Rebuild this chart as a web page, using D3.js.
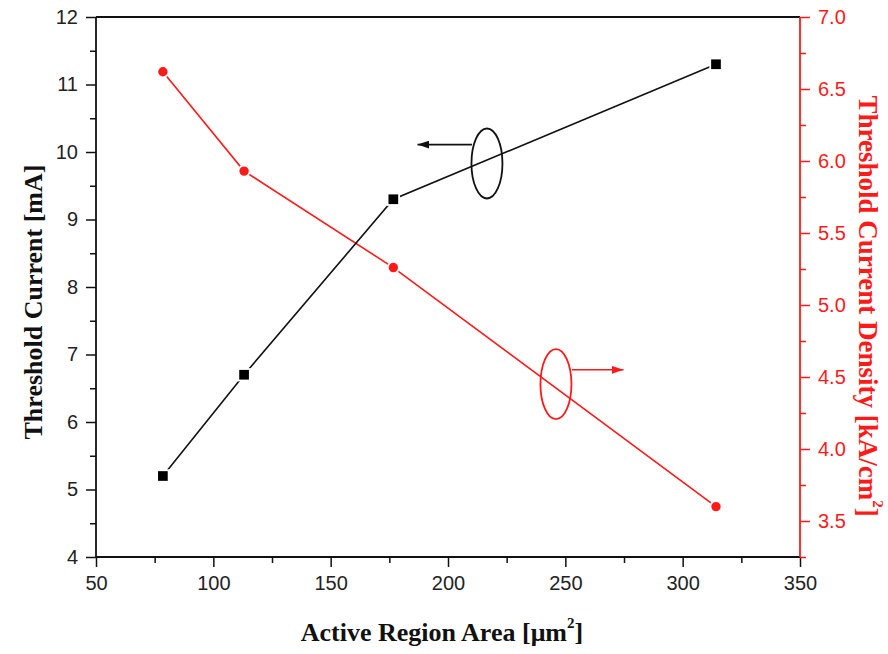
<!DOCTYPE html>
<html>
<head>
<meta charset="utf-8">
<script src="https://cdn.jsdelivr.net/npm/d3@7"></script>
<style>
  html, body { margin: 0; padding: 0; background: #fff; }
  svg { display: block; }
</style>
</head>
<body>
<svg id="chart" width="888" height="654"></svg>
<script>
// Active region area (µm²) for the four device sizes
const areas = [78.5, 113.1, 176.7, 314.2];
// Threshold current (mA), left axis
const thresholdCurrent = [5.2, 6.7, 9.3, 11.3];
// Threshold current density (kA/cm²), right axis
const currentDensity = [6.62, 5.93, 5.26, 3.60];

const xTicks = [50, 100, 150, 200, 250, 300, 350];
const leftTicks = [4, 5, 6, 7, 8, 9, 10, 11, 12];
const rightTicks = [3.5, 4.0, 4.5, 5.0, 5.5, 6.0, 6.5, 7.0];

// Annotation anchors in data units: ellipse centre and arrow ends
const blackNote = { cx: 216.6, cy: 9.83, x0: 210.2, x1: 187.0, y: 10.11 };
const redNote = { cx: 246.0, cy: 4.45, x0: 252.8, x1: 274.8, y: 4.55 };

const svg = d3.select("#chart");
const plotL = 96, plotR = 800, plotT = 17, plotB = 557;
const RED = "#ff1a1a";

const x = d3.scaleLinear().domain([50, 350]).range([plotL, plotR]);
const yL = d3.scaleLinear().domain([4, 12]).range([plotB, plotT]);
const yR = d3.scaleLinear().domain([3.25, 7.0]).range([plotB, plotT]);

const tickFont = "'Liberation Sans', Arial, sans-serif";
const titleFont = "'Liberation Serif', 'Times New Roman', serif";

// Minor ticks
function minor(axisGen, values) {
  return axisGen.tickValues(values).tickSize(6).tickFormat("");
}

// Bottom axis
const gx = svg.append("g").attr("transform", `translate(0,${plotB})`);
gx.append("g").call(minor(d3.axisBottom(x), d3.range(75, 350, 50)));
gx.append("g").call(d3.axisBottom(x).tickValues(xTicks).tickSize(10).tickPadding(9).tickFormat(d3.format("d")));

// Left axis
const gl = svg.append("g").attr("transform", `translate(${plotL},0)`);
gl.append("g").call(minor(d3.axisLeft(yL), d3.range(4.5, 12, 1)));
gl.append("g").call(d3.axisLeft(yL).tickValues(leftTicks).tickSize(10).tickPadding(8).tickFormat(d3.format("d")));

// Right axis (red)
const gr = svg.append("g").attr("transform", `translate(${plotR},0)`);
gr.append("g").call(minor(d3.axisRight(yR), [3.25, 3.75, 4.25, 4.75, 5.25, 5.75, 6.25, 6.75]));
gr.append("g").call(d3.axisRight(yR).tickValues(rightTicks).tickSize(10).tickPadding(8).tickFormat(d3.format(".1f")));

svg.selectAll(".domain").remove();
svg.selectAll(".tick line").attr("stroke", "#111").attr("stroke-width", 1.5);
svg.selectAll(".tick text")
  .attr("font-family", tickFont).attr("font-size", 20).attr("fill", "#222");
gr.selectAll(".tick line").attr("stroke", RED);
gr.selectAll(".tick text").attr("fill", RED);

// Frame: bottom, left, top in black; right in red
svg.append("line").attr("x1", plotL).attr("x2", plotR).attr("y1", plotB).attr("y2", plotB)
  .attr("stroke", "#111").attr("stroke-width", 1.8);
svg.append("line").attr("x1", plotL).attr("x2", plotL).attr("y1", plotT).attr("y2", plotB)
  .attr("stroke", "#111").attr("stroke-width", 1.8);
svg.append("line").attr("x1", plotL).attr("x2", plotR).attr("y1", plotT).attr("y2", plotT)
  .attr("stroke", "#111").attr("stroke-width", 1.8);
svg.append("line").attr("x1", plotR).attr("x2", plotR).attr("y1", plotT).attr("y2", plotB)
  .attr("stroke", RED).attr("stroke-width", 1.8);

// Series lines
const lineL = d3.line().x((d, i) => x(areas[i])).y(d => yL(d));
const lineR = d3.line().x((d, i) => x(areas[i])).y(d => yR(d));

svg.append("path").datum(currentDensity).attr("d", lineR)
  .attr("fill", "none").attr("stroke", RED).attr("stroke-width", 1.6);
svg.append("path").datum(thresholdCurrent).attr("d", lineL)
  .attr("fill", "none").attr("stroke", "#111").attr("stroke-width", 1.6);

// Markers
svg.append("g").selectAll("circle").data(currentDensity).join("circle")
  .attr("cx", (d, i) => x(areas[i])).attr("cy", d => yR(d)).attr("r", 5.6)
  .attr("fill", RED).attr("stroke", "#fff").attr("stroke-width", 1.8);
const sq = 11.5;
svg.append("g").selectAll("rect").data(thresholdCurrent).join("rect")
  .attr("x", (d, i) => x(areas[i]) - sq / 2).attr("y", d => yL(d) - sq / 2)
  .attr("width", sq).attr("height", sq)
  .attr("fill", "#000").attr("stroke", "#fff").attr("stroke-width", 1.8);

// Annotation: ellipse around a curve with an arrow pointing to its axis
const defs = svg.append("defs");
function arrowHead(id, color) {
  defs.append("marker").attr("id", id).attr("viewBox", "0 0 12 8")
    .attr("refX", 12).attr("refY", 4).attr("markerWidth", 12).attr("markerHeight", 8)
    .attr("markerUnits", "userSpaceOnUse").attr("orient", "auto")
    .append("path").attr("d", "M0,0L12,4L0,8Z").attr("fill", color);
}
arrowHead("headBlack", "#111");
arrowHead("headRed", RED);

function note(n, yScale, color, head) {
  svg.append("ellipse").attr("cx", x(n.cx)).attr("cy", yScale(n.cy))
    .attr("rx", 15.5).attr("ry", 35)
    .attr("fill", "none").attr("stroke", color).attr("stroke-width", 1.8);
  svg.append("line").attr("x1", x(n.x0)).attr("x2", x(n.x1))
    .attr("y1", yScale(n.y)).attr("y2", yScale(n.y))
    .attr("stroke", color).attr("stroke-width", 1.6).attr("marker-end", `url(#${head})`);
}
note(blackNote, yL, "#111", "headBlack");
note(redNote, yR, RED, "headRed");

// Axis titles
const xt = svg.append("text").attr("x", 442).attr("y", 641)
  .attr("text-anchor", "middle").attr("font-family", titleFont)
  .attr("font-weight", "bold").attr("font-size", 26).attr("fill", "#111");
xt.append("tspan").text("Active Region Area [\u03bcm");
xt.append("tspan").text("2").attr("font-size", 15).attr("dy", -13);
xt.append("tspan").text("]").attr("dy", 13);

svg.append("text").attr("transform", "translate(42,302) rotate(-90)")
  .attr("text-anchor", "middle").attr("font-family", titleFont)
  .attr("font-weight", "bold").attr("font-size", 26).attr("fill", "#111")
  .text("Threshold Current [mA]");

const rt = svg.append("text").attr("transform", "translate(859,306) rotate(90)")
  .attr("text-anchor", "middle").attr("font-family", titleFont)
  .attr("font-weight", "bold").attr("font-size", 27).attr("fill", RED);
rt.append("tspan").text("Threshold Current Density [kA/cm");
rt.append("tspan").text("2").attr("font-size", 15).attr("dy", -14);
rt.append("tspan").text("]").attr("dy", 14);
</script>
</body>
</html>
